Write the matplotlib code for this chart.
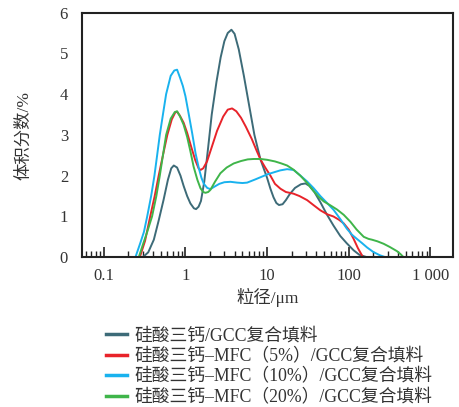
import matplotlib
matplotlib.use("Agg")
import matplotlib.pyplot as plt
from matplotlib.ticker import FixedLocator, FixedFormatter, LogLocator, NullFormatter

plt.rcParams['font.family'] = ['Liberation Serif', 'Noto Sans CJK SC', 'DejaVu Sans']

# particle size (um) and volume fraction (%)
x_base = [0.30, 0.35, 0.41, 0.47, 0.54, 0.61, 0.67, 0.72, 0.79, 0.87, 0.95, 1.05, 1.15, 1.27,
          1.35, 1.45, 1.55, 1.7, 1.9, 2.1, 2.4, 2.7, 3.0, 3.3, 3.66, 4.0, 4.5, 5.2, 6.0, 7.0,
          8.3, 9.2, 10.0, 11.0, 12.0, 13.0, 14.0, 15.5, 17.0, 19.0, 22.0, 26.0, 29.5, 33.0,
          38.0, 45.0, 54.0, 65.0, 79.0, 95.0, 115, 135, 168]
y_base = [0.0, 0.12, 0.43, 0.9, 1.41, 1.9, 2.18, 2.25, 2.2, 2.0, 1.75, 1.5, 1.32, 1.2,
          1.18, 1.24, 1.38, 1.85, 2.7, 3.5, 4.3, 4.9, 5.3, 5.5, 5.58, 5.48, 5.1, 4.45, 3.75, 3.0,
          2.4, 2.15, 1.95, 1.68, 1.47, 1.33, 1.28, 1.3, 1.4, 1.55, 1.7, 1.79, 1.81, 1.75,
          1.6, 1.35, 1.05, 0.78, 0.52, 0.34, 0.17, 0.06, 0.0]

x_mfc5 = [0.276, 0.32, 0.37, 0.42, 0.47, 0.53, 0.60, 0.68, 0.75, 0.79, 0.85, 0.95, 1.05, 1.18,
          1.32, 1.45, 1.53, 1.65, 1.84, 2.1, 2.44, 2.9, 3.3, 3.73, 4.2, 4.8, 5.5, 6.5, 7.5,
          8.3, 9.5, 11.0, 12.5, 14.6, 17.0, 21.0, 25.0, 31.0, 37.0, 45.0, 55.0, 65.0, 76.0,
          87.0, 100, 115, 130, 150]
y_mfc5 = [0.0, 0.4, 1.0, 1.5, 2.0, 2.5, 3.0, 3.38, 3.55, 3.57, 3.48, 3.3, 3.05, 2.7,
          2.38, 2.18, 2.14, 2.18, 2.35, 2.7, 3.1, 3.45, 3.62, 3.65, 3.58, 3.42, 3.2, 2.9, 2.6,
          2.4, 2.2, 2.0, 1.8, 1.68, 1.6, 1.56, 1.5, 1.4, 1.28, 1.15, 1.05, 1.0, 0.92,
          0.83, 0.68, 0.45, 0.22, 0.0]

x_mfc10 = [0.244, 0.28, 0.31, 0.34, 0.38, 0.417, 0.45, 0.485, 0.53, 0.58, 0.66, 0.73, 0.79,
           0.86, 0.93, 1.0, 1.1, 1.21, 1.33, 1.46, 1.57, 1.68, 1.85, 2.02, 2.22, 2.6, 3.0,
           3.56, 4.3, 5.0, 5.7, 7.0, 8.5, 10.0, 12.0, 14.5, 17.6, 21.2, 25.0, 30.9, 37.0,
           45.0, 55.0, 65.5, 80.0, 95.0, 110, 126, 145, 168, 200, 240, 282]
y_mfc10 = [0.0, 0.35, 0.62, 1.0, 1.5, 2.0, 2.5, 3.0, 3.5, 4.0, 4.45, 4.58, 4.6,
           4.4, 4.2, 3.95, 3.5, 3.04, 2.55, 2.18, 1.95, 1.8, 1.7, 1.67, 1.72, 1.8, 1.84,
           1.85, 1.83, 1.82, 1.83, 1.9, 1.97, 2.03, 2.08, 2.13, 2.16, 2.14, 2.02, 1.86, 1.7,
           1.5, 1.32, 1.16, 0.92, 0.7, 0.55, 0.45, 0.35, 0.24, 0.13, 0.05, 0.0]

x_mfc20 = [0.268, 0.30, 0.34, 0.39, 0.44, 0.485, 0.53, 0.58, 0.66, 0.74, 0.79, 0.86, 0.95,
           1.05, 1.15, 1.26, 1.4, 1.53, 1.65, 1.76, 1.9, 2.02, 2.3, 2.68, 3.2, 3.9, 4.8,
           5.8, 6.9, 8.3, 10.0, 12.5, 15.0, 17.6, 21.0, 25.6, 31.0, 37.3, 43.0, 49.4, 60.0,
           72.0, 87.0, 105, 125, 153, 175, 193, 225, 268, 320, 390, 430, 471]
y_mfc20 = [0.0, 0.3, 0.62, 1.0, 1.5, 2.0, 2.5, 3.0, 3.4, 3.56, 3.58, 3.45, 3.25,
           2.95, 2.6, 2.22, 1.9, 1.69, 1.6, 1.58, 1.6, 1.65, 1.85, 2.06, 2.2, 2.3, 2.36,
           2.4, 2.41, 2.41, 2.39, 2.35, 2.3, 2.25, 2.15, 2.0, 1.82, 1.62, 1.48, 1.37, 1.27,
           1.17, 1.04, 0.87, 0.68, 0.5, 0.45, 0.43, 0.39, 0.33, 0.25, 0.15, 0.08, 0.0]

labels = ['硅酸三钙/GCC复合填料',
          '硅酸三钙–MFC（5%）/GCC复合填料',
          '硅酸三钙–MFC（10%）/GCC复合填料',
          '硅酸三钙–MFC（20%）/GCC复合填料']
colors = ['#3d6b78', '#e8232a', '#19b2ee', '#3fb54a']

xtick_vals = [0.1, 1, 10, 100, 1000]
xtick_labels = ['0.1', '1', '10', '100', '1 000']
ytick_vals = [0, 1, 2, 3, 4, 5, 6]

fig = plt.figure(figsize=(4.59, 4.07), dpi=100)
ax = fig.add_axes([0.1786, 0.368, 0.8084, 0.601])

series = [(x_base, y_base), (x_mfc5, y_mfc5), (x_mfc10, y_mfc10), (x_mfc20, y_mfc20)]
for (xs, ys), c, lab in zip(series, colors, labels):
    ax.plot(xs, ys, color=c, lw=1.4, label=lab, solid_joinstyle='round')

ax.set_xscale('log')
ax.set_xlim(0.054, 1900)
ax.set_ylim(0, 6)

ax.xaxis.set_major_locator(FixedLocator(xtick_vals))
ax.xaxis.set_major_formatter(FixedFormatter(xtick_labels))
ax.xaxis.set_minor_locator(LogLocator(base=10, subs=range(2, 10), numticks=20))
ax.xaxis.set_minor_formatter(NullFormatter())
ax.set_yticks(ytick_vals)
ax.set_yticklabels([str(v) for v in ytick_vals])

ax.tick_params(axis='x', which='major', direction='in', length=7, width=1.2,
               labelsize=12, pad=8, color='#222222', labelcolor='#333333')
ax.tick_params(axis='x', which='minor', direction='in', length=4, width=1.0, color='#222222')
ax.tick_params(axis='y', which='both', length=0, labelsize=12, pad=10, labelcolor='#333333')

for s in ax.spines.values():
    s.set_linewidth(1.5)
    s.set_color('#222222')

fig.text(0.052, 0.667, '体积分数/%', rotation=90, ha='center', va='center',
         fontsize=12.5, color='#333333')
fig.text(0.584, 0.268, '粒径/μm', ha='center', va='center', fontsize=12.5, color='#333333')

leg = fig.legend(loc='upper left', bbox_to_anchor=(0.232, 0.196), frameon=False,
                 fontsize=12.8, handlelength=1.15, handletextpad=0.45, labelspacing=0.2,
                 borderaxespad=0, borderpad=0)
for t in leg.get_texts():
    t.set_color('#333333')
for l in leg.get_lines():
    l.set_linewidth(2.5)

fig.savefig('out.png', dpi=100)
